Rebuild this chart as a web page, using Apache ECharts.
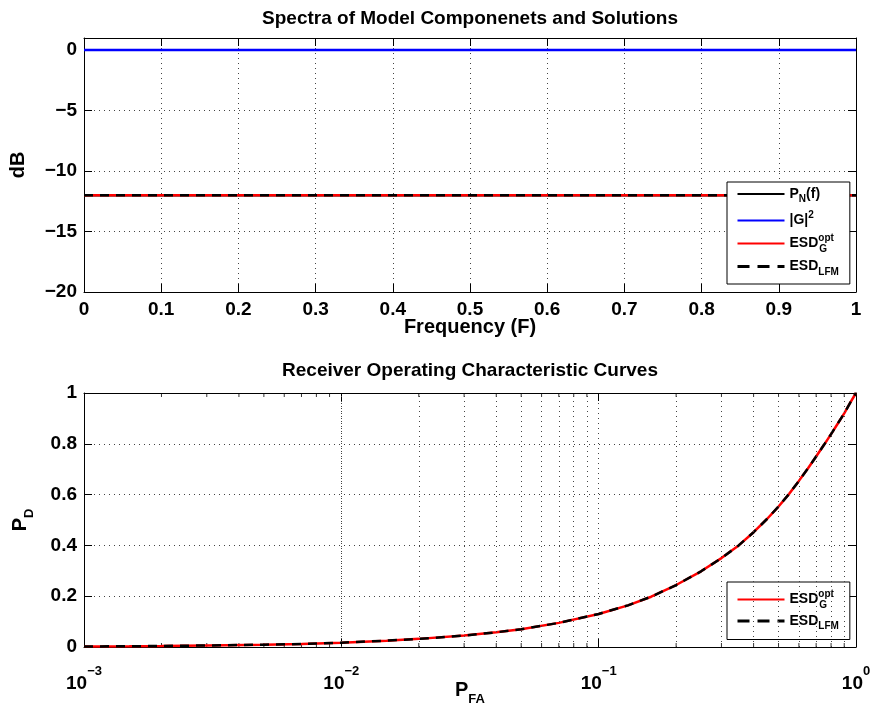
<!DOCTYPE html>
<html><head><meta charset="utf-8">
<script src="https://cdn.jsdelivr.net/npm/echarts/dist/echarts.min.js"></script>
<style>html,body{margin:0;padding:0;background:#fff}#c{width:873px;height:715px}</style>
</head><body><div id="c"></div>
<script>
// ---- Top panel data ----
const freq      = [0, 0.1, 0.2, 0.3, 0.4, 0.5, 0.6, 0.7, 0.8, 0.9, 1];
const pnDb      = [-12, -12, -12, -12, -12, -12, -12, -12, -12, -12, -12];
const gDb       = [0, 0, 0, 0, 0, 0, 0, 0, 0, 0, 0];
const esdGDb    = [-12, -12, -12, -12, -12, -12, -12, -12, -12, -12, -12];
const esdLfmDb  = [-12, -12, -12, -12, -12, -12, -12, -12, -12, -12, -12];

// ---- Bottom panel data (ROC) ----
const pfa      = [0.001, 0.0015, 0.002, 0.003, 0.005, 0.007, 0.01, 0.015, 0.02, 0.03, 0.04, 0.05, 0.07, 0.1, 0.13, 0.16, 0.2, 0.25, 0.3, 0.35, 0.4, 0.45, 0.5, 0.55, 0.6, 0.65, 0.7, 0.75, 0.8, 0.85, 0.9, 0.95, 1];
const pdEsdG   = [0.002, 0.003, 0.004, 0.006, 0.009, 0.012, 0.017, 0.025, 0.032, 0.045, 0.058, 0.07, 0.095, 0.13, 0.164, 0.198, 0.244, 0.298, 0.35, 0.40, 0.452, 0.503, 0.553, 0.603, 0.654, 0.703, 0.75, 0.795, 0.838, 0.88, 0.92, 0.962, 1.0];
const pdEsdLfm = [0.002, 0.003, 0.004, 0.006, 0.009, 0.012, 0.017, 0.025, 0.032, 0.045, 0.058, 0.07, 0.095, 0.13, 0.164, 0.198, 0.244, 0.298, 0.35, 0.40, 0.452, 0.503, 0.553, 0.603, 0.654, 0.703, 0.75, 0.795, 0.838, 0.88, 0.92, 0.962, 1.0];
const minorPfa = [0.002,0.003,0.004,0.005,0.006,0.007,0.008,0.009,0.02,0.03,0.04,0.05,0.06,0.07,0.08,0.09,0.2,0.3,0.4,0.5,0.6,0.7,0.8,0.9];

const topTitle = 'Spectra of Model Componenets and Solutions';
const botTitle = 'Receiver Operating Characteristic Curves';

const FF = '"Liberation Sans", Arial, Helvetica, sans-serif';
const FS = 19;
const NS = 20;
const gridLine = {show: true, lineStyle: {color: '#444', type: [1, 4], width: 1}};
const axLine = {show: true, onZero: false, lineStyle: {color: '#000', width: 1}};
const tick = {show: true, inside: true, length: 8, lineStyle: {color: '#000', width: 1}};
const lbl = {fontFamily: FF, fontWeight: 'bold', fontSize: FS, color: '#000'};
const minus = s => String(s).replace('-', '\u2212');

const legRich = {
  b:   {fontFamily: FF, fontWeight: 'bold', fontSize: 14, color: '#000', lineHeight: 21, verticalAlign: 'middle'},
  sub: {fontFamily: FF, fontWeight: 'bold', fontSize: 10, color: '#000', lineHeight: 10, verticalAlign: 'bottom'},
  sup: {fontFamily: FF, fontWeight: 'bold', fontSize: 10, color: '#000', lineHeight: 10, verticalAlign: 'top'},
  supw:{fontFamily: FF, fontWeight: 'bold', fontSize: 10, color: '#000', lineHeight: 10, verticalAlign: 'top', width: 1}
};
const legLabels = {
  'PN': '{b|P}{sub|N}{b|(f)}',
  'G2': '{b||G|}{sup|2}',
  'ESDG1': '{b|ESD}{supw|opt}{sub|G}',
  'ESDL1': '{b|ESD}{sub|LFM}',
  'ESDG2': '{b|ESD}{supw|opt}{sub|G}',
  'ESDL2': '{b|ESD}{sub|LFM}'
};
const legCommon = {
  orient: 'vertical', left: 727, itemWidth: 47, itemHeight: 14,
  backgroundColor: '#fff', borderColor: '#000', borderWidth: 1, borderRadius: 0,
  itemStyle: {color: 'rgba(0,0,0,0)', borderWidth: 0, opacity: 0},
  formatter: n => legLabels[n], textStyle: {rich: legRich}, selectedMode: false
};
const legDash = {type: [12, 8], width: 3};

const dashStyle = [9, 7];
const option = {
  animation: false,
  backgroundColor: '#fff',
  title: [
    {text: topTitle, left: 465, top: 4, textAlign: 'center', textStyle: {fontFamily: FF, fontWeight: 'bold', fontSize: FS, color: '#000'}},
    {text: botTitle, left: 465, top: 356, textAlign: 'center', textStyle: {fontFamily: FF, fontWeight: 'bold', fontSize: FS, color: '#000'}}
  ],
  grid: [
    {left: 84, top: 38, width: 772, height: 254, containLabel: false, outerBoundsMode: 'none'},
    {left: 84, top: 393, width: 772, height: 254, containLabel: false, outerBoundsMode: 'none'}
  ],
  legend: [
    Object.assign({data: ['PN', 'G2', 'ESDG1', {name: 'ESDL1', lineStyle: legDash}], top: 182, padding: [5, 11, 7, 9], itemGap: 5.5}, legCommon),
    Object.assign({data: ['ESDG2', {name: 'ESDL2', lineStyle: legDash}], top: 582, padding: [7, 11, 8, 9], itemGap: 4}, legCommon)
  ],
  xAxis: [
    {type: 'value', gridIndex: 0, min: 0, max: 1, interval: 0.1, position: 'bottom',
     axisLine: axLine, axisTick: tick, splitLine: gridLine,
     axisLabel: Object.assign({margin: 8, formatter: v => String(+v.toFixed(1))}, lbl),
     name: 'Frequency (F)', nameLocation: 'middle', nameGap: 25, nameMoveOverlap: false,
     nameTextStyle: {fontFamily: FF, fontWeight: 'bold', fontSize: NS, color: '#000'}},
    {type: 'value', gridIndex: 0, min: 0, max: 1, interval: 0.1, position: 'top',
     axisLine: axLine, axisTick: tick, splitLine: {show: false}, axisLabel: {show: false}},
    {type: 'log', logBase: 10, gridIndex: 1, min: 0.001, max: 1, position: 'bottom',
     axisLine: axLine, axisTick: tick, splitLine: gridLine,
     axisLabel: {margin: 18, formatter: v => '{b|10}{sup|' + minus(Math.round(Math.log10(v))) + '}',
       rich: {b: {fontFamily: FF, fontWeight: 'bold', fontSize: FS, color: '#000', lineHeight: 28, verticalAlign: 'bottom'},
              sup: {fontFamily: FF, fontWeight: 'bold', fontSize: 13, color: '#000', lineHeight: 14, verticalAlign: 'top'}}},
     name: '{b|P}{sub|FA}', nameLocation: 'middle', nameGap: 33, nameMoveOverlap: false,
     nameTextStyle: {rich: {b: {fontFamily: FF, fontWeight: 'bold', fontSize: NS, color: '#000', lineHeight: 26, verticalAlign: 'top'},
       sub: {fontFamily: FF, fontWeight: 'bold', fontSize: 13, color: '#000', lineHeight: 14, verticalAlign: 'bottom'}}}},
    {type: 'log', logBase: 10, gridIndex: 1, min: 0.001, max: 1, position: 'top',
     axisLine: axLine, axisTick: tick, splitLine: {show: false}, axisLabel: {show: false}}
  ],
  yAxis: [
    {type: 'value', gridIndex: 0, min: -20, max: 1, interval: 5, position: 'left',
     axisLine: axLine, axisTick: tick, splitLine: gridLine,
     axisLabel: Object.assign({margin: 7, formatter: v => v > 0 ? '' : minus(v)}, lbl),
     name: 'dB', nameLocation: 'middle', nameGap: 56, nameMoveOverlap: false,
     nameTextStyle: {fontFamily: FF, fontWeight: 'bold', fontSize: NS, color: '#000'}},
    {type: 'value', gridIndex: 0, min: -20, max: 1, interval: 5, position: 'right',
     axisLine: axLine, axisTick: tick, splitLine: {show: false}, axisLabel: {show: false}},
    {type: 'value', gridIndex: 1, min: 0, max: 1, interval: 0.2, position: 'left',
     axisLine: axLine, axisTick: tick, splitLine: gridLine,
     axisLabel: Object.assign({margin: 7, formatter: v => String(+v.toFixed(1))}, lbl),
     name: '{b|P}{sub|D}', nameLocation: 'middle', nameGap: 48, nameMoveOverlap: false,
     nameTextStyle: {rich: {b: {fontFamily: FF, fontWeight: 'bold', fontSize: NS, color: '#000', lineHeight: 26, verticalAlign: 'top'},
       sub: {fontFamily: FF, fontWeight: 'bold', fontSize: 13, color: '#000', lineHeight: 14, verticalAlign: 'bottom'}}}},
    {type: 'value', gridIndex: 1, min: 0, max: 1, interval: 0.2, position: 'right',
     axisLine: axLine, axisTick: tick, splitLine: {show: false}, axisLabel: {show: false}}
  ],
  series: [
    {name: 'minorGrid', type: 'line', xAxisIndex: 2, yAxisIndex: 2, data: [], silent: true,
     markLine: {silent: true, symbol: ['none', 'none'], label: {show: false}, animation: false,
       lineStyle: {color: '#444', type: [1, 4], width: 1},
       data: minorPfa.map(v => ({xAxis: v}))}},
    {name: 'minorTickB', type: 'scatter', xAxisIndex: 2, yAxisIndex: 2, silent: true, clip: false,
     symbol: 'rect', symbolSize: [1, 4], symbolOffset: [0, -2], itemStyle: {color: '#000'},
     data: minorPfa.map(v => [v, 0])},
    {name: 'minorTickT', type: 'scatter', xAxisIndex: 2, yAxisIndex: 2, silent: true, clip: false,
     symbol: 'rect', symbolSize: [1, 4], symbolOffset: [0, 2], itemStyle: {color: '#000'},
     data: minorPfa.map(v => [v, 1])},
    {name: 'PN', type: 'line', xAxisIndex: 0, yAxisIndex: 0, symbol: 'none',
     lineStyle: {color: '#000', width: 2.5}, itemStyle: {color: '#000'},
     data: freq.map((f, i) => [f, pnDb[i]])},
    {name: 'G2', type: 'line', xAxisIndex: 0, yAxisIndex: 0, symbol: 'none',
     lineStyle: {color: '#0000ff', width: 2.5}, itemStyle: {color: '#0000ff'},
     data: freq.map((f, i) => [f, gDb[i]])},
    {name: 'ESDG1', type: 'line', xAxisIndex: 0, yAxisIndex: 0, symbol: 'none',
     lineStyle: {color: '#ff0000', width: 2.5}, itemStyle: {color: '#ff0000'},
     data: freq.map((f, i) => [f, esdGDb[i]])},
    {name: 'ESDL1', type: 'line', xAxisIndex: 0, yAxisIndex: 0, symbol: 'none',
     lineStyle: {color: '#000', width: 2.5, type: dashStyle}, itemStyle: {color: '#000'},
     data: freq.map((f, i) => [f, esdLfmDb[i]])},
    {name: 'ESDG2', type: 'line', xAxisIndex: 2, yAxisIndex: 2, symbol: 'none', smooth: false,
     lineStyle: {color: '#ff0000', width: 2.5}, itemStyle: {color: '#ff0000'},
     data: pfa.map((p, i) => [p, pdEsdG[i]])},
    {name: 'ESDL2', type: 'line', xAxisIndex: 2, yAxisIndex: 2, symbol: 'none', smooth: false,
     lineStyle: {color: '#000', width: 2.5, type: dashStyle}, itemStyle: {color: '#000'},
     data: pfa.map((p, i) => [p, pdEsdLfm[i]])}
  ]
};
const chart = echarts.init(document.getElementById('c'), null, {renderer: 'canvas'});
chart.setOption(option);
</script></body></html>
